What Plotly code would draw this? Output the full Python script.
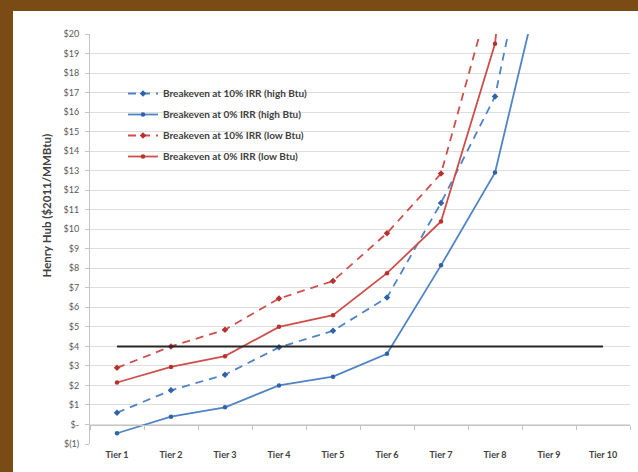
import plotly.graph_objects as go

# Shale gas supply tiers and breakeven Henry Hub prices ($2011/MMBtu)
tiers = ["Tier 1", "Tier 2", "Tier 3", "Tier 4", "Tier 5",
         "Tier 6", "Tier 7", "Tier 8", "Tier 9", "Tier 10"]

be10_high = [0.6, 1.75, 2.55, 3.95, 4.8, 6.5, 11.35, 16.8, 30.0]
be0_high = [-0.45, 0.4, 0.88, 2.0, 2.45, 3.62, 8.15, 12.9, 24.5]
be10_low = [2.9, 4.0, 4.85, 6.45, 7.35, 9.8, 12.85, 22.8]
be0_low = [2.15, 2.95, 3.5, 5.0, 5.6, 7.75, 10.4, 19.5, 45.0]

ref_price = [4, 4, 4, 4, 4, 4, 4, 4, 4, 4]

y_ticks = list(range(-1, 21))
y_tick_text = ["$(1)", "$-"] + ["$" + str(v) for v in range(1, 21)]

series_names = [
    "Breakeven at 10% IRR (high Btu)",
    "Breakeven at 0% IRR (high Btu)",
    "Breakeven at 10% IRR (low Btu)",
    "Breakeven at 0% IRR (low Btu)",
]

BLUE = "#4f84c4"
BLUE_MK = "#2f62a8"
RED = "#cd4f4b"
RED_MK = "#b5322f"
FONT = "Lato, sans-serif"

W, H = 638, 472
L, R, T, B = 90, 8, 34, 28

fig = go.Figure()

styles = [
    (be10_high, BLUE, BLUE_MK, "8px,6px", "diamond", 5),
    (be0_high, BLUE, BLUE_MK, "solid", "circle", 4.5),
    (be10_low, RED, RED_MK, "8px,6px", "diamond", 5),
    (be0_low, RED, RED_MK, "solid", "circle", 4.5),
]
for i, (vals, lc, mc, dash, sym, ms) in enumerate(styles):
    fig.add_trace(go.Scatter(
        x=tiers[:len(vals)], y=vals, name=series_names[i],
        mode="lines+markers", legendgroup=f"g{i}",
        line=dict(color=lc, width=1.8, dash=dash),
        marker=dict(color=mc, size=ms, symbol=sym),
    ))

# $4 reference price line, on a twin category axis that also carries the $0 axis line
fig.add_trace(go.Scatter(
    x=tiers, y=ref_price, mode="lines", xaxis="x2",
    line=dict(color="#262626", width=2), showlegend=False,
))

# white chart panel on the brown frame
px_x = lambda p: (p - L) / (W - L - R)
px_y = lambda p: (H - B - p) / (H - T - B)
fig.add_shape(type="rect", xref="paper", yref="paper", layer="below",
              x0=px_x(13), x1=px_x(W + 2), y0=px_y(H + 2), y1=px_y(11),
              fillcolor="white", line=dict(width=0))

fig.add_annotation(
    text="<b>Henry Hub ($2011/MMBtu)</b>", textangle=-90,
    xref="paper", yref="paper", x=px_x(37), y=px_y(206),
    showarrow=False, font=dict(family=FONT, size=11.5, color="#404040"),
)

fig.update_layout(
    width=W, height=H,
    margin=dict(l=L, r=R, t=T, b=B),
    paper_bgcolor="#7a4b14",
    plot_bgcolor="rgba(0,0,0,0)",
    font=dict(family=FONT, size=9, color="#595959"),
    showlegend=True,
    legend=dict(
        x=px_x(123), y=px_y(79), xanchor="left", yanchor="top",
        bgcolor="rgba(0,0,0,0)", traceorder="grouped", tracegroupgap=2,
        font=dict(family=FONT, size=10, color="#404040", weight="bold"),
        itemwidth=30,
    ),
    xaxis=dict(
        type="category", categoryorder="array", categoryarray=tiers,
        range=[-0.5, 9.5], showgrid=False, showline=False, ticks="",
        tickfont=dict(family=FONT, size=9, color="#404040", weight="bold"),
        ticklabelstandoff=4, zeroline=False, fixedrange=True,
    ),
    xaxis2=dict(
        type="category", categoryorder="array", categoryarray=tiers,
        range=[-0.5, 9.5], overlaying="x", anchor="free",
        position=px_y(H - B - 19.5),
        showticklabels=False, showgrid=False,
        showline=True, linecolor="#c4c4c4", linewidth=1,
        ticks="outside", tickson="boundaries", ticklen=4, tickcolor="#c4c4c4",
    ),
    yaxis=dict(
        range=[-1, 20], tickvals=y_ticks, ticktext=y_tick_text,
        showgrid=True, gridcolor="#dedede", gridwidth=1,
        showline=True, linecolor="#c4c4c4", linewidth=1,
        ticks="outside", ticklen=4, tickcolor="#c4c4c4",
        ticklabelstandoff=4, zeroline=False,
        tickfont=dict(family=FONT, size=9, color="#595959"),
    ),
)

fig.write_html("out.html")
